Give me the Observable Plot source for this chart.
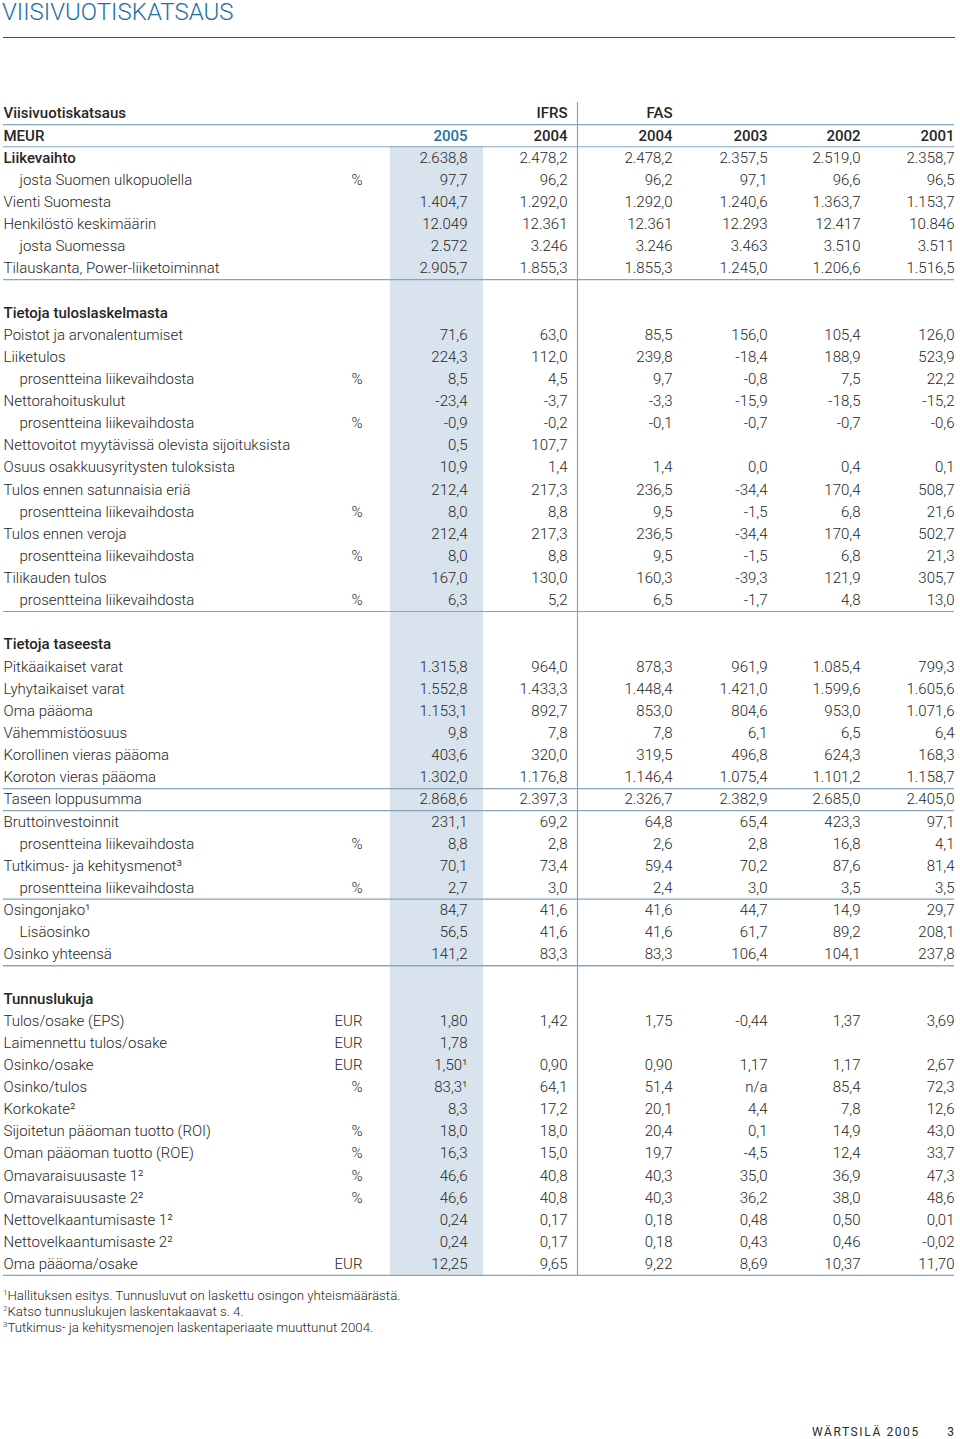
<!DOCTYPE html>
<html><head><meta charset="utf-8">
<script src="https://cdn.jsdelivr.net/npm/d3@7"></script>
<script src="https://cdn.jsdelivr.net/npm/@observablehq/plot@0.6"></script>
<style>
body{margin:0;width:960px;height:1439px;position:relative;background:#fff;font-family:Roboto,"Liberation Sans",sans-serif;color:#2a2a2a;overflow:hidden}
#title{position:absolute;left:2px;top:-1px;font-size:24px;line-height:26px;letter-spacing:0px;color:#1d6fa5;font-weight:300;white-space:nowrap}
#titleRule{position:absolute;left:3px;top:37px;width:952px;height:0;border-top:1.5px solid #4d4d4d}
#chart{position:absolute;left:0;top:90px}
#notes{position:absolute;left:3px;top:1288px;font-size:13.3px;line-height:16px;font-weight:300;white-space:nowrap}
#notes sup{font-size:8px;vertical-align:5px;line-height:0}
#footer1{position:absolute;left:812px;top:1425px;font-size:12px;letter-spacing:1.6px;font-weight:400;white-space:nowrap}
#footer2{position:absolute;right:6px;top:1425px;font-size:12px;font-weight:400}
</style>
</head><body>
<div id="title">VIISIVUOTISKATSAUS</div>
<div id="titleRule"></div>
<div id="chart"></div>
<div id="notes"><sup>1</sup>Hallituksen esitys. Tunnusluvut on laskettu osingon yhteismäärästä.<br><sup>2</sup>Katso tunnuslukujen laskentakaavat s. 4.<br><sup>3</sup>Tutkimus- ja kehitysmenojen laskentaperiaate muuttunut 2004.</div>
<div id="footer1">WÄRTSILÄ 2005</div>
<div id="footer2">3</div>
<script>
// ---------- DATA ----------
const tableTitle = "Viisivuotiskatsaus";
const unitTitle = "MEUR";
const standards = ["", "IFRS", "FAS", "", "", ""];
const years = ["2005", "2004", "2004", "2003", "2002", "2001"];

const keyLabels = ["Liikevaihto", "josta Suomen ulkopuolella", "Vienti Suomesta", "Henkilöstö keskimäärin", "josta Suomessa", "Tilauskanta, Power-liiketoiminnat"];
const keyUnits = ["", "%", "", "", "", ""];
const keyValues = [
  ["2.638,8", "2.478,2", "2.478,2", "2.357,5", "2.519,0", "2.358,7"],
  ["97,7", "96,2", "96,2", "97,1", "96,6", "96,5"],
  ["1.404,7", "1.292,0", "1.292,0", "1.240,6", "1.363,7", "1.153,7"],
  ["12.049", "12.361", "12.361", "12.293", "12.417", "10.846"],
  ["2.572", "3.246", "3.246", "3.463", "3.510", "3.511"],
  ["2.905,7", "1.855,3", "1.855,3", "1.245,0", "1.206,6", "1.516,5"]
];

const incomeTitle = "Tietoja tuloslaskelmasta";
const incomeLabels = ["Poistot ja arvonalentumiset", "Liiketulos", "prosentteina liikevaihdosta", "Nettorahoituskulut", "prosentteina liikevaihdosta", "Nettovoitot myytävissä olevista sijoituksista", "Osuus osakkuusyritysten tuloksista", "Tulos ennen satunnaisia eriä", "prosentteina liikevaihdosta", "Tulos ennen veroja", "prosentteina liikevaihdosta", "Tilikauden tulos", "prosentteina liikevaihdosta"];
const incomeUnits = ["", "", "%", "", "%", "", "", "", "%", "", "%", "", "%"];
const incomeValues = [
  ["71,6", "63,0", "85,5", "156,0", "105,4", "126,0"],
  ["224,3", "112,0", "239,8", "-18,4", "188,9", "523,9"],
  ["8,5", "4,5", "9,7", "-0,8", "7,5", "22,2"],
  ["-23,4", "-3,7", "-3,3", "-15,9", "-18,5", "-15,2"],
  ["-0,9", "-0,2", "-0,1", "-0,7", "-0,7", "-0,6"],
  ["0,5", "107,7", "", "", "", ""],
  ["10,9", "1,4", "1,4", "0,0", "0,4", "0,1"],
  ["212,4", "217,3", "236,5", "-34,4", "170,4", "508,7"],
  ["8,0", "8,8", "9,5", "-1,5", "6,8", "21,6"],
  ["212,4", "217,3", "236,5", "-34,4", "170,4", "502,7"],
  ["8,0", "8,8", "9,5", "-1,5", "6,8", "21,3"],
  ["167,0", "130,0", "160,3", "-39,3", "121,9", "305,7"],
  ["6,3", "5,2", "6,5", "-1,7", "4,8", "13,0"]
];

const balanceTitle = "Tietoja taseesta";
const balanceLabels = ["Pitkäaikaiset varat", "Lyhytaikaiset varat", "Oma pääoma", "Vähemmistöosuus", "Korollinen vieras pääoma", "Koroton vieras pääoma", "Taseen loppusumma", "Bruttoinvestoinnit", "prosentteina liikevaihdosta", "Tutkimus- ja kehitysmenot³", "prosentteina liikevaihdosta", "Osingonjako¹", "Lisäosinko", "Osinko yhteensä"];
const balanceUnits = ["", "", "", "", "", "", "", "", "%", "", "%", "", "", ""];
const balanceValues = [
  ["1.315,8", "964,0", "878,3", "961,9", "1.085,4", "799,3"],
  ["1.552,8", "1.433,3", "1.448,4", "1.421,0", "1.599,6", "1.605,6"],
  ["1.153,1", "892,7", "853,0", "804,6", "953,0", "1.071,6"],
  ["9,8", "7,8", "7,8", "6,1", "6,5", "6,4"],
  ["403,6", "320,0", "319,5", "496,8", "624,3", "168,3"],
  ["1.302,0", "1.176,8", "1.146,4", "1.075,4", "1.101,2", "1.158,7"],
  ["2.868,6", "2.397,3", "2.326,7", "2.382,9", "2.685,0", "2.405,0"],
  ["231,1", "69,2", "64,8", "65,4", "423,3", "97,1"],
  ["8,8", "2,8", "2,6", "2,8", "16,8", "4,1"],
  ["70,1", "73,4", "59,4", "70,2", "87,6", "81,4"],
  ["2,7", "3,0", "2,4", "3,0", "3,5", "3,5"],
  ["84,7", "41,6", "41,6", "44,7", "14,9", "29,7"],
  ["56,5", "41,6", "41,6", "61,7", "89,2", "208,1"],
  ["141,2", "83,3", "83,3", "106,4", "104,1", "237,8"]
];

const ratioTitle = "Tunnuslukuja";
const ratioLabels = ["Tulos/osake (EPS)", "Laimennettu tulos/osake", "Osinko/osake", "Osinko/tulos", "Korkokate²", "Sijoitetun pääoman tuotto (ROI)", "Oman pääoman tuotto (ROE)", "Omavaraisuusaste 1²", "Omavaraisuusaste 2²", "Nettovelkaantumisaste 1²", "Nettovelkaantumisaste 2²", "Oma pääoma/osake"];
const ratioUnits = ["EUR", "EUR", "EUR", "%", "", "%", "%", "%", "%", "", "", "EUR"];
const ratioValues = [
  ["1,80", "1,42", "1,75", "-0,44", "1,37", "3,69"],
  ["1,78", "", "", "", "", ""],
  ["1,50¹", "0,90", "0,90", "1,17", "1,17", "2,67"],
  ["83,3¹", "64,1", "51,4", "n/a", "85,4", "72,3"],
  ["8,3", "17,2", "20,1", "4,4", "7,8", "12,6"],
  ["18,0", "18,0", "20,4", "0,1", "14,9", "43,0"],
  ["16,3", "15,0", "19,7", "-4,5", "12,4", "33,7"],
  ["46,6", "40,8", "40,3", "35,0", "36,9", "47,3"],
  ["46,6", "40,8", "40,3", "36,2", "38,0", "48,6"],
  ["0,24", "0,17", "0,18", "0,48", "0,50", "0,01"],
  ["0,24", "0,17", "0,18", "0,43", "0,46", "-0,02"],
  ["12,25", "9,65", "9,22", "8,69", "10,37", "11,70"]
];

// ---------- LAYOUT / STYLE ----------
const colPos = [3, 362, 467, 567, 672, 767, 860, 954]; // label, unit, 6 value columns (right edges)
const rowPitch = 22.13;
const fontSize = 15;
const ink = "#262626";
const ruleColor = "#86a5bd";
const shadeColor = "#d8e3ee";
const blue = "#2471a8";
const boldLabels = new Set(["Liikevaihto"]);
const isIndented = l => /^(josta|prosentteina|Lisäosinko)/.test(l);
const balanceRulesAfter = [5, 6, 10, 13];

// ---------- BUILD ROWS ----------
const labels = [], units = [], values = [], titles = [], hRules = [];
let row = 0;
titles.push({row, text: tableTitle});
standards.forEach((s, i) => s && titles.push({row, col: i + 2, text: s}));
row++; hRules.push(row);
titles.push({row, text: unitTitle});
years.forEach((y, i) => titles.push({row, col: i + 2, text: y, blue: i === 0}));
row++; hRules.push(row);
function addSection(title, ls, us, vs, rulesAfter) {
  if (title) { titles.push({row, text: title}); row++; }
  ls.forEach((l, i) => {
    labels.push({row, text: l, indent: isIndented(l), bold: boldLabels.has(l)});
    if (us[i]) units.push({row, text: us[i]});
    vs[i].forEach((v, j) => v && values.push({row, col: j + 2, text: v}));
    row++;
    if (rulesAfter.includes(i)) hRules.push(row);
  });
  hRules.push(row);
}
addSection(null, keyLabels, keyUnits, keyValues, []);
row++;
addSection(incomeTitle, incomeLabels, incomeUnits, incomeValues, []);
row++;
addSection(balanceTitle, balanceLabels, balanceUnits, balanceValues, balanceRulesAfter);
row++;
addSection(ratioTitle, ratioLabels, ratioUnits, ratioValues, []);
const nRows = row;

const mTop = 12, mBottom = 8;
const H = Math.round(mTop + nRows * rowPitch + mBottom);
const common = {y: d => d.row + 0.5, fontSize, fill: ink, lineAnchor: "middle"};

const chart = Plot.plot({
  width: 960, height: H,
  marginTop: mTop, marginBottom: mBottom, marginLeft: 0, marginRight: 0,
  x: {type: "linear", domain: d3.range(colPos.length), range: colPos, axis: null},
  y: {type: "linear", domain: [0, nRows], range: [mTop, mTop + nRows * rowPitch], axis: null},
  style: {fontFamily: "Roboto, 'Liberation Sans', sans-serif", fontWeight: 300, background: "white", overflow: "visible"},
  marks: [
    Plot.rect([{}], {x1: 2, x2: 2, y1: 2, y2: nRows, fill: shadeColor, insetLeft: -77, insetRight: -16}),
    Plot.ruleY(hRules, {y: d => d, x1: 0, x2: colPos.length - 1, stroke: ruleColor, strokeWidth: 1.2}),
    Plot.ruleX([3], {x: d => d, y1: 0, y2: nRows, dx: 10, stroke: ruleColor, strokeWidth: 1.2}),
    Plot.text(titles.filter(d => d.col == null), {...common, x: 0, text: "text", textAnchor: "start", fontWeight: 500}),
    Plot.text(titles.filter(d => d.col != null && !d.blue), {...common, x: "col", text: "text", textAnchor: "end", fontWeight: 500}),
    Plot.text(titles.filter(d => d.blue), {...common, x: "col", text: "text", textAnchor: "end", fontWeight: 500, fill: blue}),
    Plot.text(labels.filter(d => !d.indent && !d.bold), {...common, x: 0, text: "text", textAnchor: "start"}),
    Plot.text(labels.filter(d => d.bold), {...common, x: 0, text: "text", textAnchor: "start", fontWeight: 500}),
    Plot.text(labels.filter(d => d.indent), {...common, x: 0, text: "text", textAnchor: "start", dx: 16}),
    Plot.text(units, {...common, x: 1, text: "text", textAnchor: "end"}),
    Plot.text(values, {...common, x: "col", text: "text", textAnchor: "end"})
  ]
});
document.getElementById("chart").appendChild(chart);
</script>
</body></html>
